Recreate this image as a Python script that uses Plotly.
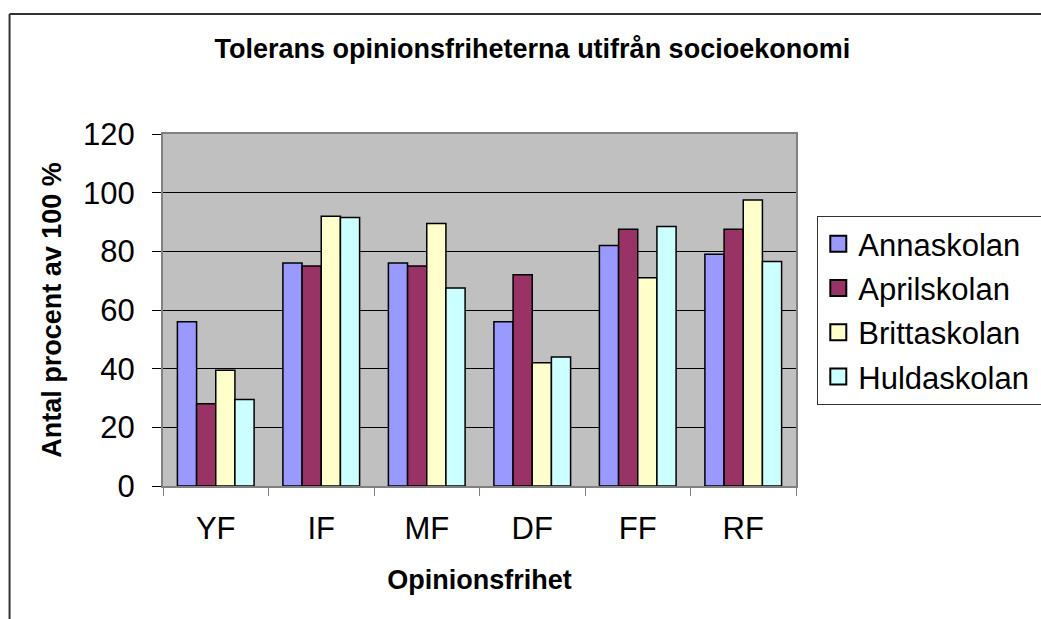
import plotly.graph_objects as go

# data
categories = ["YF", "IF", "MF", "DF", "FF", "RF"]
schools = ["Annaskolan", "Aprilskolan", "Brittaskolan", "Huldaskolan"]
anna = [56, 76, 76, 56, 82, 79]
april = [28, 75, 75, 72, 87.5, 87.5]
britta = [39.5, 92, 89.5, 42, 71, 97.5]
hulda = [29.5, 91.5, 67.5, 44, 88.5, 76.5]
values = [anna, april, britta, hulda]
colors = ["#9999FF", "#993366", "#FFFFCC", "#CCFFFF"]

FONT = "Arial, Liberation Sans, sans-serif"
W, H = 1041, 619
ml, mt = 162.5, 134
mr, mb = W - 795.7, H - 485.7
pw, ph = W - ml - mr, H - mt - mb

fig = go.Figure()
for name, vals, c in zip(schools, values, colors):
    fig.add_trace(go.Bar(x=categories, y=vals, name=name, showlegend=False,
                         marker=dict(color=c, line=dict(color="black", width=1.5))))
# legend entries with bigger swatches
for i, (name, c) in enumerate(zip(schools, colors)):
    fig.add_trace(go.Scatter(x=[None], y=[None], mode="markers", name=name + "\u00a0",
                             legendgroup=f"g{i}",
                             marker=dict(symbol="square", size=16, color=c,
                                         line=dict(color="black", width=2))))

# outer chart frame (left and top edges, the rest runs off the page)
fx0 = (9 - ml) / pw
fy1 = 1 + (mt - 14) / ph
fig.add_shape(type="line", xref="paper", yref="paper", x0=fx0, x1=fx0, y0=-0.6, y1=fy1,
              line=dict(color="#333333", width=2), layer="below")
fig.add_shape(type="line", xref="paper", yref="paper", x0=fx0, x1=1.6, y0=fy1, y1=fy1,
              line=dict(color="#333333", width=2), layer="below")

fig.update_xaxes(showline=True, linecolor="#808080", linewidth=2, mirror=True,
                 ticks="outside", ticklen=8, tickcolor="#808080", tickson="boundaries",
                 ticklabelstandoff=14,
                 tickfont=dict(size=31, color="black"), showgrid=False,
                 title=dict(text="<b>Opinionsfrihet</b>", font=dict(size=27, color="black"), standoff=25))
fig.update_yaxes(range=[0, 120], dtick=20, showline=True, linecolor="#808080", linewidth=2, mirror=True,
                 ticks="outside", ticklen=9, tickcolor="black", ticklabelstandoff=11,
                 tickfont=dict(size=31, color="black"),
                 showgrid=True, gridcolor="black", gridwidth=1, zeroline=False,
                 title=dict(text="<b>Antal procent av 100 %</b>", font=dict(size=27, color="black"), standoff=14))

fig.update_layout(
    width=W, height=H,
    margin=dict(l=ml, r=mr, t=mt, b=mb, autoexpand=False),
    paper_bgcolor="white", plot_bgcolor="#C0C0C0",
    font=dict(family=FONT, color="black"),
    barmode="group", bargap=0.273, bargroupgap=0,
    title=dict(text="<b>Tolerans opinionsfriheterna utifrån socioekonomi</b>",
               font=dict(size=27, color="black"), xref="paper", x=(532 - ml) / pw, xanchor="center",
               yref="container", y=1 - 49 / H, yanchor="middle"),
    legend=dict(x=(817 - ml) / pw, y=1 - (216 - mt) / ph, xanchor="left", yanchor="top",
                bgcolor="white", bordercolor="#333333", borderwidth=1,
                font=dict(size=31, color="black"), itemsizing="trace", tracegroupgap=1),
)

# no page margin, so the figure fills the window exactly
fig.write_html("out.html", config={"displayModeBar": False},
               post_script="document.body.style.margin='0';document.body.style.overflow='hidden';")
